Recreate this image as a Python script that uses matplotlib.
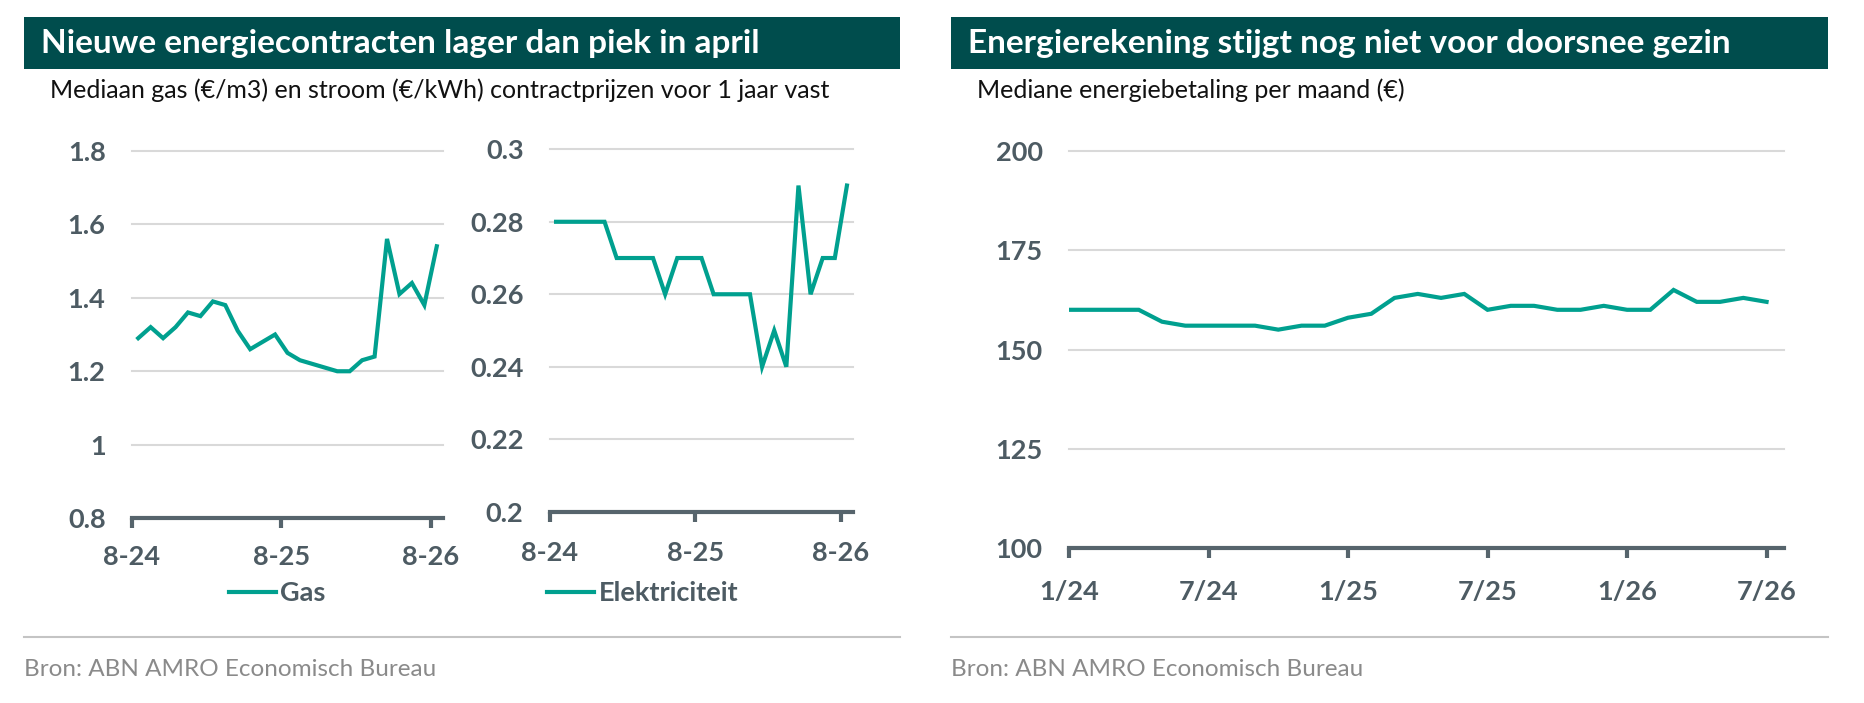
import numpy as np
import matplotlib.pyplot as plt
from matplotlib.patches import Rectangle
from matplotlib.lines import Line2D

## Data ##################################################################
gas = [1.29, 1.32, 1.29, 1.32, 1.36, 1.35, 1.39, 1.38, 1.31, 1.26, 1.28, 1.30, 1.25,
       1.23, 1.22, 1.21, 1.20, 1.20, 1.23, 1.24, 1.56, 1.41, 1.44, 1.38, 1.54]
elec = [0.28, 0.28, 0.28, 0.28, 0.28, 0.27, 0.27, 0.27, 0.27, 0.26, 0.27, 0.27, 0.27,
        0.26, 0.26, 0.26, 0.26, 0.24, 0.25, 0.24, 0.29, 0.26, 0.27, 0.27, 0.29]
contract_ticks = ['8-24', '8-25', '8-26']

bill = [160, 160, 160, 160, 157, 156, 156, 156, 156, 155, 156, 156, 158, 159, 163, 164,
        163, 164, 160, 161, 161, 160, 160, 161, 160, 160, 165, 162, 162, 163, 162]
bill_ticks = ['1/24', '7/24', '1/25', '7/25', '1/26', '7/26']

gas_yticks = [0.8, 1.0, 1.2, 1.4, 1.6, 1.8]
gas_ylabels = ['0.8', '1', '1.2', '1.4', '1.6', '1.8']
elec_yticks = [0.2, 0.22, 0.24, 0.26, 0.28, 0.3]
elec_ylabels = ['0.2', '0.22', '0.24', '0.26', '0.28', '0.3']
bill_yticks = [100, 125, 150, 175, 200]

## Style #################################################################
W, H = 1864, 703
teal = '#00a08f'
dark = '#004d4d'
txt = '#4d5b63'
grid = '#d9d9d9'
tick_size = 19.5
plt.rcParams['font.family'] = ['Lato', 'DejaVu Sans']

fig = plt.figure(figsize=(W / 100, H / 100), dpi=100)


def box(x0, y0, x1, y1):
    # pixel box (top-left origin) -> figure fraction
    return [x0 / W, 1 - y1 / H, (x1 - x0) / W, (y1 - y0) / H]


def style_axis(ax, yticks, ylabels, xticks, xlabels, xpad):
    ax.set_yticks(yticks)
    ax.set_yticklabels(ylabels)
    ax.set_xticks(xticks)
    ax.set_xticklabels(xlabels)
    for s in ['top', 'right', 'left']:
        ax.spines[s].set_visible(False)
    ax.spines['bottom'].set_color('#56646c')
    ax.spines['bottom'].set_linewidth(3)
    ax.tick_params(axis='y', length=0, pad=19, labelsize=tick_size, labelcolor=txt)
    ax.tick_params(axis='x', direction='out', length=7, width=3, color='#56646c',
                   pad=xpad, labelsize=tick_size, labelcolor=txt)
    for lab in ax.get_xticklabels() + ax.get_yticklabels():
        lab.set_fontweight('bold')
    for y in yticks[1:]:
        ax.axhline(y, color=grid, lw=1.5, zorder=0, clip_on=False)


## Header bars ##########################################################
for x0, x1, title, sub in [(24, 900, 'Nieuwe energiecontracten lager dan piek in april',
                            'Mediaan gas (€/m3) en stroom (€/kWh) contractprijzen voor 1 jaar vast'),
                           (951, 1828, 'Energierekening stijgt nog niet voor doorsnee gezin',
                            'Mediane energiebetaling per maand (€)')]:
    b = box(x0, 17, x1, 69)
    fig.patches.append(Rectangle((b[0], b[1]), b[2], b[3], transform=fig.transFigure,
                                 facecolor=dark, edgecolor='none'))
    fig.text((x0 + 17) / W, 1 - 44 / H, title, color='white', fontsize=24,
             fontweight='bold', va='center', ha='left')
    fig.text((x0 + 26) / W, 1 - 90 / H, sub, color='#111111', fontsize=18,
             va='center', ha='left')
    # source line
    fig.add_artist(Line2D([x0 / W, x1 / W], [1 - 637 / H, 1 - 637 / H],
                          color='#c4c4c4', lw=1.5, transform=fig.transFigure))
    fig.text(x0 / W, 1 - 669 / H, 'Bron: ABN AMRO Economisch Bureau', color='#8a8a8a',
             fontsize=17.5, va='center', ha='left')

## Gas ###################################################################
x_c = np.arange(len(gas)) + 0.5
ax_gas = fig.add_axes(box(132, 150.7, 443, 518.3))
ax_gas.plot(x_c, gas, color=teal, lw=3, solid_joinstyle='miter', label='Gas')
ax_gas.set(xlim=(0, 25), ylim=(0.8, 1.8))
style_axis(ax_gas, gas_yticks, gas_ylabels, [0, 12, 24], contract_ticks, 12)

## Elektriciteit #########################################################
ax_el = fig.add_axes(box(550, 149.3, 853, 511.7))
ax_el.plot(x_c, elec, color=teal, lw=3, solid_joinstyle='miter', label='Elektriciteit')
ax_el.set(xlim=(0, 25), ylim=(0.2, 0.3))
style_axis(ax_el, elec_yticks, elec_ylabels, [0, 12, 24], contract_ticks, 14)

for ax, xpos in [(ax_gas, 229), (ax_el, 547)]:
    leg = ax.legend(loc='center left', bbox_to_anchor=(xpos / W, 1 - 593 / H),
                    bbox_transform=fig.transFigure, frameon=False, handlelength=1.75,
                    handletextpad=0.15, borderpad=0, borderaxespad=0,
                    prop={'size': tick_size, 'weight': 'bold'})
    for t in leg.get_texts():
        t.set_color(txt)

## Energierekening #######################################################
x_m = np.arange(len(bill))
ax_bill = fig.add_axes(box(1069, 151, 1784, 548))
ax_bill.plot(x_m, bill, color=teal, lw=3, solid_joinstyle='miter')
ax_bill.set(xlim=(0, 30.75), ylim=(100, 200))
style_axis(ax_bill, bill_yticks, [str(v) for v in bill_yticks], [0, 6, 12, 18, 24, 30],
           bill_ticks, 16)

fig.savefig('out.png', dpi=100)
